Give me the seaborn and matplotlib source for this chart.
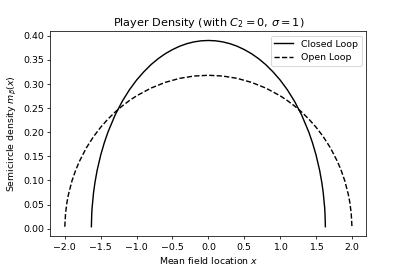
import matplotlib
matplotlib.use("Agg")
import matplotlib.pyplot as plt
import seaborn as sns
import pandas as pd

# Closed loop density (symmetric about 0)
closed_x = [-1.63, -1.625, -1.62, -1.6, -1.58, -1.55, -1.5, -1.45, -1.4, -1.3, -1.2, -1.1, -1.0, -0.9, -0.8, -0.7,
            -0.6, -0.5, -0.4, -0.3, -0.2, -0.1, 0.0, 0.1, 0.2, 0.3, 0.4, 0.5, 0.6, 0.7, 0.8, 0.9, 1.0, 1.1, 1.2, 1.3,
            1.4, 1.45, 1.5, 1.55, 1.58, 1.6, 1.62, 1.625, 1.63]
closed_y = [0.004, 0.0306, 0.0432, 0.0746, 0.0960, 0.1209, 0.1528, 0.1783, 0.2000, 0.2356, 0.2643, 0.2882, 0.3084,
            0.3254, 0.3403, 0.3527, 0.3631, 0.3716, 0.3786, 0.3839, 0.3876, 0.3898, 0.3905, 0.3898, 0.3876, 0.3839,
            0.3786, 0.3716, 0.3631, 0.3527, 0.3403, 0.3254, 0.3084, 0.2882, 0.2643, 0.2356, 0.2000, 0.1783, 0.1528,
            0.1209, 0.0960, 0.0746, 0.0432, 0.0306, 0.004]

# Open loop density
open_x = [-2.0, -1.99, -1.97, -1.95, -1.9, -1.85, -1.8, -1.7, -1.6, -1.5, -1.4, -1.3, -1.2, -1.1, -1.0, -0.8, -0.6,
          -0.4, -0.2, 0.0, 0.2, 0.4, 0.6, 0.8, 1.0, 1.1, 1.2, 1.3, 1.4, 1.5, 1.6, 1.7, 1.8, 1.85, 1.9, 1.95, 1.97,
          1.99, 2.0]
open_y = [0.004, 0.0318, 0.0549, 0.0707, 0.0994, 0.1209, 0.1387, 0.1677, 0.1910, 0.2105, 0.2273, 0.2419, 0.2546,
          0.2658, 0.2757, 0.2917, 0.3036, 0.3119, 0.3167, 0.3183, 0.3167, 0.3119, 0.3036, 0.2917, 0.2757, 0.2658,
          0.2546, 0.2419, 0.2273, 0.2105, 0.1910, 0.1677, 0.1387, 0.1209, 0.0994, 0.0707, 0.0549, 0.0318, 0.004]

labels = ["Closed Loop", "Open Loop"]

df_closed = pd.DataFrame({"x": closed_x, "y": closed_y})
df_open = pd.DataFrame({"x": open_x, "y": open_y})

DPI = 67.8
fig, ax = plt.subplots(figsize=(407 / DPI, 271 / DPI), dpi=DPI)
fig.subplots_adjust(left=0.124, right=0.9, top=0.885, bottom=0.129)
sns.lineplot(data=df_closed, x="x", y="y", ax=ax, color="black", linestyle="-", label=labels[0],
             sort=False, estimator=None, linewidth=1.5)
sns.lineplot(data=df_open, x="x", y="y", ax=ax, color="black", linestyle="--", label=labels[1],
             sort=False, estimator=None, linewidth=1.5)

ax.set_title(r"Player Density (with $C_2 = 0$, $\sigma = 1$)")
ax.set_xlabel(r"Mean field location $x$")
ax.set_ylabel(r"Semicircle density $m_\beta(x)$")
ax.set_xticks([-2.0, -1.5, -1.0, -0.5, 0.0, 0.5, 1.0, 1.5, 2.0])
ax.set_yticks([0.0, 0.05, 0.10, 0.15, 0.20, 0.25, 0.30, 0.35, 0.40])
ax.legend(loc="upper right")

fig.savefig("out.png", dpi=DPI)
